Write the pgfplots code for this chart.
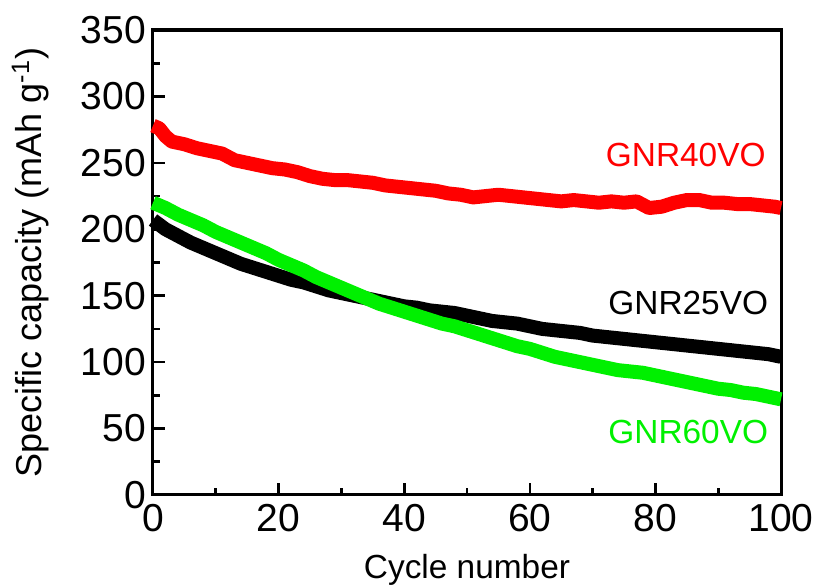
\documentclass[border=0pt]{standalone}
\usepackage{fontspec}
\setmainfont{Liberation Sans}
\usepackage{pgfplots}
\pgfplotsset{compat=1.18}

\definecolor{cred}{RGB}{255,0,0}
\definecolor{cgreen}{RGB}{0,240,0}

\begin{document}
\begin{tikzpicture}
\begin{axis}[
    width=314pt, height=232.5pt, scale only axis,
    xmin=0, xmax=100, ymin=0, ymax=350,
    xtick={0,20,...,100}, ytick={0,50,...,350},
    minor x tick num=1, minor y tick num=1,
    tick align=inside, xtick pos=bottom, ytick pos=left,
    major tick length=6pt, minor tick length=3.5pt,
    axis line style={line width=1.5pt},
    every tick/.style={black, line width=1.3pt},
    /pgf/number format/assume math mode=true,
    tick label style={font=\fontsize{19.5}{22}\selectfont},
    xticklabel style={yshift=-1pt},
    xlabel={Cycle number},
    ylabel={Specific capacity (mAh g\textsuperscript{-1})},
    xlabel style={font=\fontsize{16.7}{20}\selectfont, yshift=-4.5pt},
    ylabel style={font=\fontsize{18}{21}\selectfont, yshift=9pt},
    clip=false,
]
\addplot[cred, line width=7pt, line join=round] coordinates {
    (0,278)(1,276)(2,270)(3,266)(5,264)(7,261)(9,259)(11,257)(13,252)
    (15,250)(17,248)(19,246)(21,245)(23,243)(25,240)(27,238)(29,237)
    (31,237)(33,236)(35,235)(37,233)(39,232)(41,231)(43,230)(45,229)
    (47,227)(49,226)(51,224)(53,225)(55,226)(57,225)(59,224)(61,223)
    (63,222)(65,221)(67,222)(69,221)(71,220)(73,221)(75,220)(77,221)
    (79,216)(81,217)(83,220)(85,222)(87,222)(89,220)(91,220)(93,219)
    (95,219)(97,218)(99,217)(100,216)
};
\addplot[black, line width=7pt, line join=round] coordinates {
    (0,207)(2,200)(4,195)(6,190)(8,186)(10,182)(12,178)(14,174)(16,171)
    (18,168)(20,165)(22,162)(24,160)(26,157)(28,154)(30,152)(32,150)
    (34,148)(36,146)(38,144)(40,142)(42,141)(44,139)(46,138)(48,137)
    (50,135)(52,133)(54,131)(56,130)(58,129)(60,127)(62,125)(64,124)
    (66,123)(68,122)(70,120)(72,119)(74,118)(76,117)(78,116)(80,115)
    (82,114)(84,113)(86,112)(88,111)(90,110)(92,109)(94,108)(96,107)
    (98,106)(100,104)
};
\addplot[cgreen, line width=7pt, line join=round] coordinates {
    (0,220)(2,216)(4,211)(6,207)(8,203)(10,198)(12,194)(14,190)(16,186)
    (18,182)(20,177)(22,173)(24,169)(26,164)(28,160)(30,156)(32,152)
    (34,148)(36,144)(38,141)(40,138)(42,135)(44,132)(46,129)(48,127)
    (50,124)(52,121)(54,118)(56,115)(58,112)(60,110)(62,107)(64,104)
    (66,102)(68,100)(70,98)(72,96)(74,94)(76,93)(78,92)(80,90)(82,88)
    (84,86)(86,84)(88,82)(90,80)(92,79)(94,77)(96,76)(98,74)(100,72)
};
\node[cred, anchor=base east, inner sep=0, font=\fontsize{16.7}{20}\selectfont]
    at (axis cs:97.6,247) {GNR40VO};
\node[black, anchor=base east, inner sep=0, font=\fontsize{16.7}{20}\selectfont]
    at (axis cs:98,135.5) {GNR25VO};
\node[cgreen, anchor=base east, inner sep=0, font=\fontsize{16.7}{20}\selectfont]
    at (axis cs:98,39) {GNR60VO};
\coordinate (sw) at (rel axis cs:0,0);
\coordinate (ne) at (rel axis cs:1,1);
\end{axis}
\pgfresetboundingbox
\path ([shift={(-76.5pt,-46.5pt)}]sw) rectangle ([shift={(16.5pt,15pt)}]ne);
\end{tikzpicture}
\end{document}
